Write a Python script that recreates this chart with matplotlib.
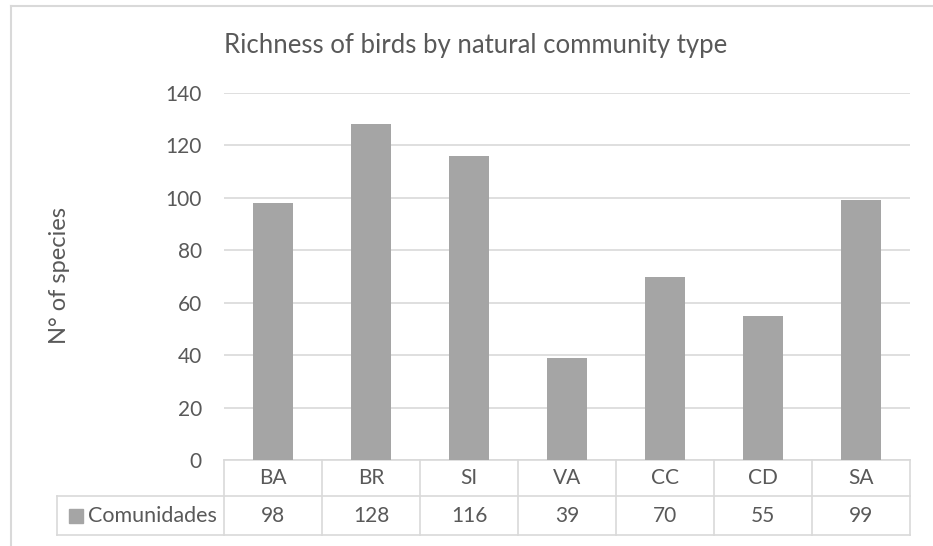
import matplotlib
matplotlib.use("Agg")
import matplotlib.pyplot as plt
from matplotlib.lines import Line2D

# Data
categories = ["BA", "BR", "SI", "VA", "CC", "CD", "SA"]
species = [98, 128, 116, 39, 70, 55, 99]
series_name = "Comunidades"
y_ticks = [0, 20, 40, 60, 80, 100, 120, 140]

plt.rcParams['font.family'] = ['Lato', 'DejaVu Sans']
text_col = "#595959"
grid_col = "#D9D9D9"
bar_col = "#A5A5A5"
fs = 15

fig = plt.figure(figsize=(9.33, 5.46), dpi=100)
W, H = 933, 546
# plot area in pixels: x 224..910, y 93..460
ax = fig.add_axes([224 / W, (H - 460) / H, (910 - 224) / W, (460 - 93) / H])

x = list(range(len(categories)))
ax.bar(x, species, width=0.4, color=bar_col, zorder=3)

ax.set_xlim(-0.5, len(categories) - 0.5)
ax.set_ylim(0, 140)
ax.set_yticks(y_ticks)
ax.set_xticks([])
ax.tick_params(axis="y", length=0, pad=16, labelsize=fs, labelcolor=text_col)
ax.grid(axis="y", color=grid_col, linewidth=1.2, zorder=0)
for s in ax.spines.values():
    s.set_visible(False)

# Data table under the plot
trans = ax.get_xaxis_transform()
row1 = -36 / 367
row2 = -75 / 367
left = -0.5 - (224 - 57) / 98
n = len(categories)
kw = dict(color=grid_col, linewidth=1.2, transform=trans, clip_on=False)
ax.plot([-0.5, n - 0.5], [0, 0], **kw)
ax.plot([left, n - 0.5], [row1, row1], **kw)
ax.plot([left, n - 0.5], [row2, row2], **kw)
for i in range(n + 1):
    ax.plot([i - 0.5, i - 0.5], [0, row2], **kw)
ax.plot([left, left], [row1, row2], **kw)

for i, (c, v) in enumerate(zip(categories, species)):
    ax.text(i, row1 / 2, c, ha="center", va="center", fontsize=fs,
            color=text_col, transform=trans)
    ax.text(i, (row1 + row2) / 2, str(v), ha="center", va="center",
            fontsize=fs, color=text_col, transform=trans)

ax.text(-0.5 - 7 / 98, (row1 + row2) / 2, series_name, ha="right", va="center",
        fontsize=15.5, color=text_col, transform=trans)
ax.plot([-0.5 - (224 - 76) / 98], [(row1 + row2) / 2], marker="s", ms=10.5,
        color=bar_col, transform=trans, clip_on=False, linestyle="none")

fig.text(60 / W, 1 - 276 / H, "N° of species", rotation=90, ha="center",
         va="center", fontsize=17, color=text_col)
fig.text(476 / W, 1 - 45 / H, "Richness of birds by natural community type",
         ha="center", va="center", fontsize=18.5, color=text_col)

# chart border (top and left visible)
fig.add_artist(Line2D([11 / W, 1], [1 - 6 / H, 1 - 6 / H], color=grid_col,
                      linewidth=1.5, transform=fig.transFigure))
fig.add_artist(Line2D([11 / W, 11 / W], [0, 1 - 6 / H], color=grid_col,
                      linewidth=1.5, transform=fig.transFigure))

fig.savefig("out.png", dpi=100)
